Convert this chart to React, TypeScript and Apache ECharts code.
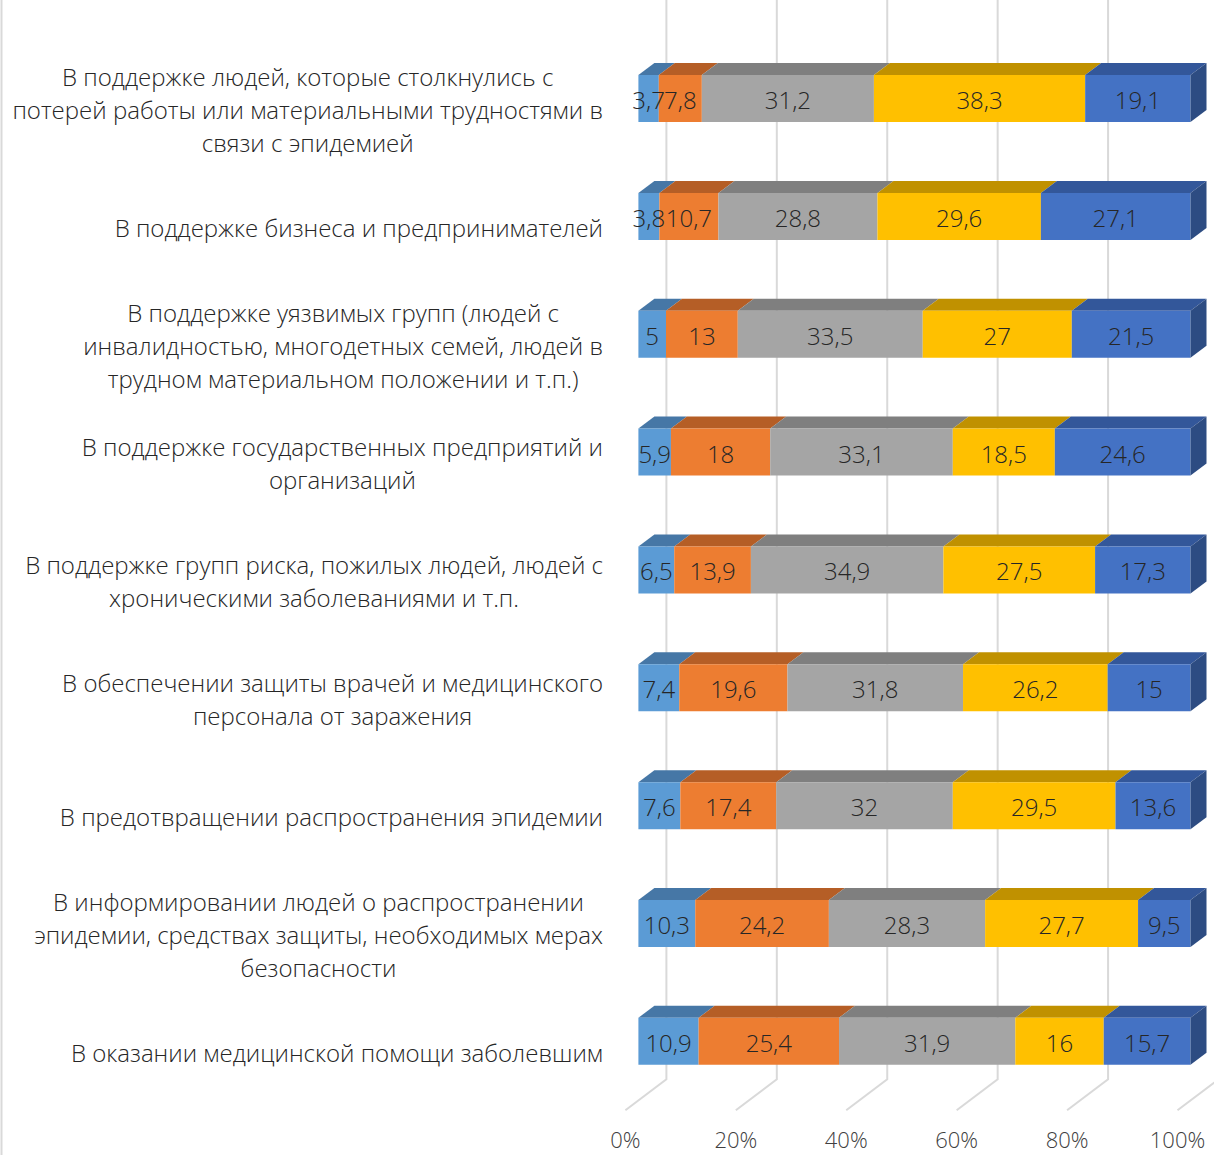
import React, { useEffect, useRef } from 'react';
import * as echarts from 'echarts';

const categories = [
  'В поддержке людей, которые столкнулись с\nпотерей работы или материальными трудностями в\nсвязи с эпидемией',
  'В поддержке бизнеса и предпринимателей',
  'В поддержке уязвимых групп (людей с\nинвалидностью, многодетных семей, людей в\nтрудном материальном положении и т.п.)',
  'В поддержке государственных предприятий и\nорганизаций',
  'В поддержке групп риска, пожилых людей, людей с\nхроническими заболеваниями и т.п.',
  'В обеспечении защиты врачей и медицинского\nперсонала от заражения',
  'В предотвращении распространения эпидемии',
  'В информировании людей о распространении\nэпидемии, средствах защиты, необходимых мерах\nбезопасности',
  'В оказании медицинской помощи заболевшим',
];

const series1 = [3.7, 3.8, 5, 5.9, 6.5, 7.4, 7.6, 10.3, 10.9];
const series2 = [7.8, 10.7, 13, 18, 13.9, 19.6, 17.4, 24.2, 25.4];
const series3 = [31.2, 28.8, 33.5, 33.1, 34.9, 31.8, 32, 28.3, 31.9];
const series4 = [38.3, 29.6, 27, 18.5, 27.5, 26.2, 29.5, 27.7, 16];
const series5 = [19.1, 27.1, 21.5, 24.6, 17.3, 15, 13.6, 9.5, 15.7];
const seriesNames = ['Ряд 1', 'Ряд 2', 'Ряд 3', 'Ряд 4', 'Ряд 5'];
const xTicks = [0, 20, 40, 60, 80, 100];

const frontColors = ['#5B9BD5', '#ED7D31', '#A5A5A5', '#FFC000', '#4472C4'];
const topColors = ['#4677A6', '#B55E26', '#7F7F7F', '#C09100', '#33579A'];
const sideColors = ['#3F6B96', '#A35522', '#737373', '#AD8300', '#2D4C82'];

const FONT = '"Open Sans", "Noto Sans", sans-serif';
const BAR_H = 47;
const DX = 16;
const DY = 12;
const CAT_FONT = 24;
const CAT_RIGHT = 603;

export default function App() {
  const ref = useRef<HTMLDivElement>(null);
  useEffect(() => {
    if (!ref.current) return;
    const chart = echarts.init(ref.current, null, { renderer: 'svg' });
    const all = [series1, series2, series3, series4, series5];

    const canvas = document.createElement('canvas');
    const ctx = canvas.getContext('2d')!;
    ctx.font = `300 ${CAT_FONT}px "Open Sans"`;
    const maxWidths = categories.map((c) =>
      Math.max(...c.split('\n').map((l) => ctx.measureText(l).width))
    );

    const barSeries = all.map((vals, si) => {
      const data = vals.map((v, ci) => {
        const total = all.reduce((a, s) => a + s[ci], 0);
        let cum = 0;
        for (let k = 0; k < si; k++) cum += all[k][ci];
        const start = (cum / total) * 100;
        const end = ((cum + v) / total) * 100;
        return [ci, start, end, v, si === all.length - 1 ? 1 : 0];
      });
      return {
        type: 'custom',
        name: seriesNames[si],
        z: 2,
        clip: false,
        encode: { x: [1, 2], y: 0 },
        data,
        renderItem: (params: any, api: any) => {
          const ci = api.value(0);
          const p0 = api.coord([api.value(1), ci]);
          const p1 = api.coord([api.value(2), ci]);
          const v = api.value(3);
          const isLast = api.value(4) === 1;
          const yc = p0[1];
          const top = yc - BAR_H / 2;
          const bot = yc + BAR_H / 2;
          const x0 = p0[0];
          const x1 = p1[0];
          const children: any[] = [
            {
              type: 'polygon',
              shape: { points: [[x0, top], [x1, top], [x1 + DX, top - DY], [x0 + DX, top - DY]] },
              style: { fill: topColors[si] },
            },
            {
              type: 'rect',
              shape: { x: x0, y: top, width: x1 - x0, height: BAR_H },
              style: { fill: frontColors[si] },
            },
          ];
          if (isLast) {
            children.push({
              type: 'polygon',
              shape: { points: [[x1, top], [x1 + DX, top - DY], [x1 + DX, bot - DY], [x1, bot]] },
              style: { fill: sideColors[si] },
            });
          }
          children.push({
            type: 'text',
            z2: 100,
            style: {
              text: String(v).replace('.', ','),
              x: (x0 + x1) / 2,
              y: yc + 1,
              align: 'center',
              verticalAlign: 'middle',
              fontSize: 24,
              fontWeight: 300,
              fontFamily: FONT,
              fill: '#262626',
            },
          });
          return { type: 'group', children };
        },
      };
    });

    const gridSeries = {
      type: 'custom',
      name: 'grid',
      z: 1,
      clip: false,
      silent: true,
      encode: { x: 0 },
      data: xTicks.map((t) => [t, 0]),
      renderItem: (params: any, api: any) => {
        const t = api.value(0);
        const x = api.coord([t, 0])[0];
        const cs = params.coordSys;
        const fb = cs.y + cs.height - 21;
        return {
          type: 'group',
          children: [
            {
              type: 'polyline',
              shape: { points: [[x + 28, 0], [x + 28, fb], [x - 13, fb + 31]] },
              style: { stroke: '#D9D9D9', lineWidth: 2, fill: 'none' },
            },
            {
              type: 'text',
              style: {
                text: `${t}%`,
                x: x - 13,
                y: fb + 60,
                align: 'center',
                verticalAlign: 'middle',
                fontSize: 22,
                fontWeight: 300,
                fontFamily: FONT,
                fill: '#404040',
              },
            },
          ],
        };
      },
    };

    const labelSeries = {
      type: 'custom',
      name: 'labels',
      z: 3,
      clip: false,
      silent: true,
      encode: { y: 0 },
      data: categories.map((_, i) => [i, 0]),
      renderItem: (params: any, api: any) => {
        const ci = api.value(0);
        const y = api.coord([0, ci])[1];
        return {
          type: 'text',
          style: {
            text: categories[ci],
            x: CAT_RIGHT - maxWidths[ci] / 2,
            y: y + 11,
            align: 'center',
            verticalAlign: 'middle',
            fontSize: CAT_FONT,
            fontWeight: 300,
            lineHeight: 33,
            fontFamily: FONT,
            fill: '#262626',
          },
        };
      },
    };

    chart.setOption({
      animation: false,
      backgroundColor: '#ffffff',
      grid: { left: 638.4, right: 23.5, top: 39.6, bottom: 54.7, containLabel: false },
      xAxis: { type: 'value', min: 0, max: 100, show: false },
      yAxis: { type: 'category', data: categories, inverse: true, show: false },
      graphic: [
        {
          type: 'line',
          shape: { x1: 1.5, y1: 0, x2: 1.5, y2: 1155 },
          style: { stroke: '#D9D9D9', lineWidth: 2 },
        },
      ],
      series: [gridSeries, ...barSeries, labelSeries],
    });
    return () => chart.dispose();
  }, []);
  return (
    <div
      ref={ref}
      style={{ position: 'absolute', left: 0, top: 0, width: 1214, height: 1155 }}
    />
  );
}
